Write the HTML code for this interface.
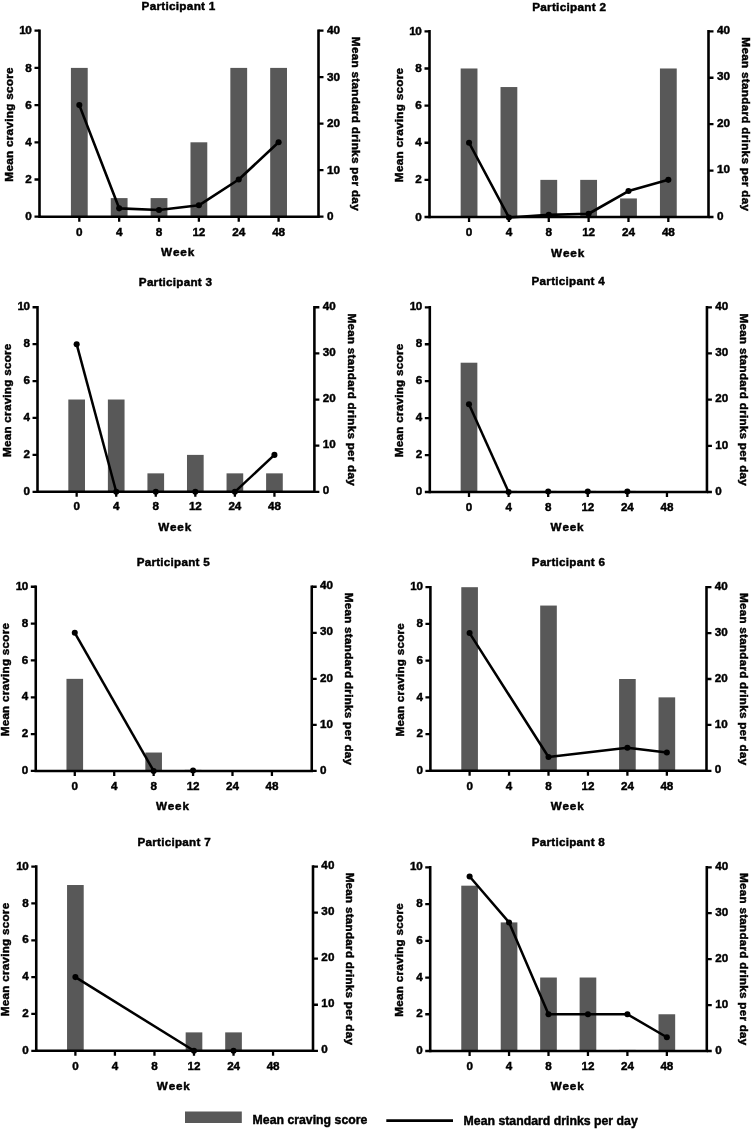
<!DOCTYPE html>
<html lang="en"><head><meta charset="utf-8"><title>Participants: craving score and standard drinks</title>
<style>html,body{margin:0;padding:0;background:#fff}svg{display:block}svg{will-change:transform}.d text{letter-spacing:-0.4px}text.r{letter-spacing:0.1px}text.x{letter-spacing:-0.1px}text{stroke:#000;stroke-width:0.45px;font-kerning:none;letter-spacing:0.27px;font-family:"Liberation Sans",sans-serif;font-weight:bold;fill:#000}</style>
</head><body>
<svg width="752" height="1129" viewBox="0 0 752 1129">
<rect width="752" height="1129" fill="#fff"/>
<g id="p1">
<rect x="70.91" y="67.9" width="16.8" height="148.8" fill="#585858"/>
<rect x="110.76" y="198.1" width="16.8" height="18.6" fill="#585858"/>
<rect x="150.62" y="198.1" width="16.8" height="18.6" fill="#585858"/>
<rect x="190.48" y="142.3" width="16.8" height="74.4" fill="#585858"/>
<rect x="230.34" y="67.9" width="16.8" height="148.8" fill="#585858"/>
<rect x="270.19" y="67.9" width="16.8" height="148.8" fill="#585858"/>
<g stroke="#000" stroke-width="2.6" fill="none" stroke-linecap="butt">
<path d="M39.5 29.4 V216.7 H318.5 V29.4"/>
<path stroke-width="2.3" d="M39.5 179.5 h-5 M39.5 142.3 h-5 M39.5 105.1 h-5 M39.5 67.9 h-5 M39.5 30.7 h-5 M318.5 216.7 h5 M318.5 170.2 h5 M318.5 123.7 h5 M318.5 77.2 h5 M318.5 30.7 h5 M40.8 216.7 h-6.3 M79.31 216.7 v5 M119.16 216.7 v5 M159.02 216.7 v5 M198.88 216.7 v5 M238.74 216.7 v5 M278.59 216.7 v5"/>
</g>
<polyline points="79.31,105.1 119.16,208.33 159.02,209.96 198.88,205.31 238.74,179.5 278.59,142.3" fill="none" stroke="#000" stroke-width="2.6" stroke-linejoin="round"/>
<circle cx="79.31" cy="105.1" r="3.05"/>
<circle cx="119.16" cy="208.33" r="3.05"/>
<circle cx="159.02" cy="209.96" r="3.05"/>
<circle cx="198.88" cy="205.31" r="3.05"/>
<circle cx="238.74" cy="179.5" r="3.05"/>
<circle cx="278.59" cy="142.3" r="3.05"/>
<g font-size="11.75">
<g class="d" text-anchor="end">
<text x="31.5" y="220.31">0</text>
<text x="31.5" y="183.11">2</text>
<text x="31.5" y="145.91">4</text>
<text x="31.5" y="108.71">6</text>
<text x="31.5" y="71.51">8</text>
<text x="31.5" y="34.31">10</text>
</g>
<text x="326.9" y="220.06" class="r">0</text>
<text x="326.9" y="173.56" class="r">10</text>
<text x="326.9" y="127.06" class="r">20</text>
<text x="326.9" y="80.56" class="r">30</text>
<text x="326.9" y="34.06" class="r">40</text>
<g text-anchor="middle">
<text x="79.31" y="236.11" class="x">0</text>
<text x="119.16" y="236.11" class="x">4</text>
<text x="159.02" y="236.11" class="x">8</text>
<text x="198.88" y="236.11" class="x">12</text>
<text x="238.74" y="236.11" class="x">24</text>
<text x="278.59" y="236.11" class="x">48</text>
<text x="178.1" y="256.31" style="letter-spacing:0.85px">Week</text>
<text x="178.6" y="9.91">Participant 1</text>
<text transform="translate(8.3 124.4) rotate(-90)" y="4.21">Mean craving score</text>
<text transform="translate(356.4 123.9) rotate(90)" y="4.21">Mean standard drinks per day</text>
</g>
</g>
</g>
<g id="p2">
<rect x="460.66" y="68.48" width="16.8" height="148.52" fill="#585858"/>
<rect x="500.51" y="87.05" width="16.8" height="129.95" fill="#585858"/>
<rect x="540.37" y="179.87" width="16.8" height="37.13" fill="#585858"/>
<rect x="580.23" y="179.87" width="16.8" height="37.13" fill="#585858"/>
<rect x="620.09" y="198.44" width="16.8" height="18.57" fill="#585858"/>
<rect x="659.94" y="68.48" width="16.8" height="148.52" fill="#585858"/>
<g stroke="#000" stroke-width="2.6" fill="none" stroke-linecap="butt">
<path d="M429.5 30.05 V217 H708.5 V30.05"/>
<path stroke-width="2.3" d="M429.5 179.87 h-5 M429.5 142.74 h-5 M429.5 105.61 h-5 M429.5 68.48 h-5 M429.5 31.35 h-5 M708.5 217 h5 M708.5 170.59 h5 M708.5 124.17 h5 M708.5 77.76 h5 M708.5 31.35 h5 M430.8 217 h-6.3 M469.06 217 v5 M508.91 217 v5 M548.77 217 v5 M588.63 217 v5 M628.49 217 v5 M668.34 217 v5"/>
</g>
<polyline points="469.06,142.74 508.91,217.46 548.77,214.91 588.63,213.75 628.49,191.01 668.34,179.87" fill="none" stroke="#000" stroke-width="2.6" stroke-linejoin="round"/>
<circle cx="469.06" cy="142.74" r="3.05"/>
<circle cx="508.91" cy="217.46" r="3.05"/>
<circle cx="548.77" cy="214.91" r="3.05"/>
<circle cx="588.63" cy="213.75" r="3.05"/>
<circle cx="628.49" cy="191.01" r="3.05"/>
<circle cx="668.34" cy="179.87" r="3.05"/>
<g font-size="11.75">
<g class="d" text-anchor="end">
<text x="421.5" y="220.61">0</text>
<text x="421.5" y="183.48">2</text>
<text x="421.5" y="146.35">4</text>
<text x="421.5" y="109.22">6</text>
<text x="421.5" y="72.09">8</text>
<text x="421.5" y="34.96">10</text>
</g>
<text x="716.9" y="219.71" class="r">0</text>
<text x="716.9" y="173.29" class="r">10</text>
<text x="716.9" y="126.88" class="r">20</text>
<text x="716.9" y="80.47" class="r">30</text>
<text x="716.9" y="34.06" class="r">40</text>
<g text-anchor="middle">
<text x="469.06" y="236.41" class="x">0</text>
<text x="508.91" y="236.41" class="x">4</text>
<text x="548.77" y="236.41" class="x">8</text>
<text x="588.63" y="236.41" class="x">12</text>
<text x="628.49" y="236.41" class="x">24</text>
<text x="668.34" y="236.41" class="x">48</text>
<text x="568.1" y="256.61" style="letter-spacing:0.85px">Week</text>
<text x="569.2" y="10.96">Participant 2</text>
<text transform="translate(398.3 124.88) rotate(-90)" y="4.21">Mean craving score</text>
<text transform="translate(746.4 124.38) rotate(90)" y="4.21">Mean standard drinks per day</text>
</g>
</g>
</g>
<g id="p3">
<rect x="68.32" y="399.52" width="16.67" height="92.28" fill="#585858"/>
<rect x="107.88" y="399.52" width="16.67" height="92.28" fill="#585858"/>
<rect x="147.43" y="473.35" width="16.67" height="18.46" fill="#585858"/>
<rect x="186.99" y="454.89" width="16.67" height="36.91" fill="#585858"/>
<rect x="226.55" y="473.35" width="16.67" height="18.46" fill="#585858"/>
<rect x="266.11" y="473.35" width="16.67" height="18.46" fill="#585858"/>
<g stroke="#000" stroke-width="2.58" fill="none" stroke-linecap="butt">
<path d="M37.5 305.96 V491.8 H314.4 V305.96"/>
<path stroke-width="2.28" d="M37.5 454.89 h-4.96 M37.5 417.98 h-4.96 M37.5 381.07 h-4.96 M37.5 344.16 h-4.96 M37.5 307.25 h-4.96 M314.4 491.8 h4.96 M314.4 445.66 h4.96 M314.4 399.52 h4.96 M314.4 353.39 h4.96 M314.4 307.25 h4.96 M38.79 491.8 h-6.25 M76.66 491.8 v4.96 M116.21 491.8 v4.96 M155.77 491.8 v4.96 M195.33 491.8 v4.96 M234.89 491.8 v4.96 M274.44 491.8 v4.96"/>
</g>
<polyline points="76.66,344.16 116.21,491.8" fill="none" stroke="#000" stroke-width="2.5" stroke-linejoin="round"/>
<polyline points="234.89,491.8 274.44,454.89" fill="none" stroke="#000" stroke-width="2.5" stroke-linejoin="round"/>
<circle cx="76.66" cy="344.16" r="3.03"/>
<circle cx="116.21" cy="491.8" r="3.03"/>
<circle cx="155.77" cy="491.8" r="3.03"/>
<circle cx="195.33" cy="491.8" r="3.03"/>
<circle cx="234.89" cy="491.8" r="3.03"/>
<circle cx="274.44" cy="454.89" r="3.03"/>
<g font-size="11.65">
<g class="d" text-anchor="end">
<text x="29.56" y="494.97">0</text>
<text x="29.56" y="458.06">2</text>
<text x="29.56" y="421.15">4</text>
<text x="29.56" y="384.24">6</text>
<text x="29.56" y="347.33">8</text>
<text x="29.56" y="310.42">10</text>
</g>
<text x="322.74" y="494.47" class="r">0</text>
<text x="322.74" y="448.33" class="r">10</text>
<text x="322.74" y="402.2" class="r">20</text>
<text x="322.74" y="356.06" class="r">30</text>
<text x="322.74" y="309.92" class="r">40</text>
<g text-anchor="middle">
<text x="76.66" y="510.36" class="x">0</text>
<text x="116.21" y="510.36" class="x">4</text>
<text x="155.77" y="510.36" class="x">8</text>
<text x="195.33" y="510.36" class="x">12</text>
<text x="234.89" y="510.36" class="x">24</text>
<text x="274.44" y="510.36" class="x">48</text>
<text x="175.05" y="531.1" style="letter-spacing:0.85px">Week</text>
<text x="175.55" y="285.91">Participant 3</text>
<text transform="translate(6.53 400.22) rotate(-90)" y="4.17">Mean craving score</text>
<text transform="translate(352.01 399.72) rotate(90)" y="4.17">Mean standard drinks per day</text>
</g>
</g>
</g>
<g id="p4">
<rect x="460.65" y="362.71" width="16.69" height="129.29" fill="#585858"/>
<rect x="500.24" y="490.89" width="16.69" height="1.11" fill="#585858"/>
<rect x="539.83" y="490.89" width="16.69" height="1.11" fill="#585858"/>
<rect x="579.43" y="490.89" width="16.69" height="1.11" fill="#585858"/>
<rect x="619.02" y="490.89" width="16.69" height="1.11" fill="#585858"/>
<g stroke="#000" stroke-width="2.58" fill="none" stroke-linecap="butt">
<path d="M429.8 306.01 V492 H706.95 V306.01"/>
<path stroke-width="2.28" d="M429.8 455.06 h-4.97 M429.8 418.12 h-4.97 M429.8 381.18 h-4.97 M429.8 344.24 h-4.97 M429.8 307.3 h-4.97 M706.95 492 h4.97 M706.95 445.82 h4.97 M706.95 399.65 h4.97 M706.95 353.48 h4.97 M706.95 307.3 h4.97 M431.09 492 h-6.26 M468.99 492 v4.97 M508.59 492 v4.97 M548.18 492 v4.97 M587.77 492 v4.97 M627.36 492 v4.97 M666.96 492 v4.97"/>
</g>
<polyline points="468.99,404.27 508.59,492" fill="none" stroke="#000" stroke-width="2.5" stroke-linejoin="round"/>
<circle cx="468.99" cy="404.27" r="3.03"/>
<circle cx="508.59" cy="492" r="3.03"/>
<circle cx="548.18" cy="491.54" r="3.03"/>
<circle cx="587.77" cy="491.54" r="3.03"/>
<circle cx="627.36" cy="491.54" r="3.03"/>
<g font-size="11.65">
<g class="d" text-anchor="end">
<text x="421.85" y="495.17">0</text>
<text x="421.85" y="458.23">2</text>
<text x="421.85" y="421.29">4</text>
<text x="421.85" y="384.35">6</text>
<text x="421.85" y="347.41">8</text>
<text x="421.85" y="310.47">10</text>
</g>
<text x="715.29" y="494.67" class="r">0</text>
<text x="715.29" y="448.5" class="r">10</text>
<text x="715.29" y="402.32" class="r">20</text>
<text x="715.29" y="356.15" class="r">30</text>
<text x="715.29" y="309.97" class="r">40</text>
<g text-anchor="middle">
<text x="468.99" y="510.57" class="x">0</text>
<text x="508.59" y="510.57" class="x">4</text>
<text x="548.18" y="510.57" class="x">8</text>
<text x="587.77" y="510.57" class="x">12</text>
<text x="627.36" y="510.57" class="x">24</text>
<text x="666.96" y="510.57" class="x">48</text>
<text x="567.48" y="531.34" style="letter-spacing:0.85px">Week</text>
<text x="568.27" y="285.43">Participant 4</text>
<text transform="translate(398.81 400.35) rotate(-90)" y="4.17">Mean craving score</text>
<text transform="translate(744.6 399.85) rotate(90)" y="4.17">Mean standard drinks per day</text>
</g>
</g>
</g>
<g id="p5">
<rect x="66.47" y="678.85" width="16.62" height="92.1" fill="#585858"/>
<rect x="145.33" y="752.53" width="16.62" height="18.42" fill="#585858"/>
<rect x="184.75" y="769.84" width="16.62" height="1.11" fill="#585858"/>
<g stroke="#000" stroke-width="2.57" fill="none" stroke-linecap="butt">
<path d="M35.75 585.46 V770.95 H311.75 V585.46"/>
<path stroke-width="2.28" d="M35.75 734.11 h-4.95 M35.75 697.27 h-4.95 M35.75 660.43 h-4.95 M35.75 623.59 h-4.95 M35.75 586.75 h-4.95 M311.75 770.95 h4.95 M311.75 724.9 h4.95 M311.75 678.85 h4.95 M311.75 632.8 h4.95 M311.75 586.75 h4.95 M37.04 770.95 h-6.23 M74.78 770.95 v4.95 M114.21 770.95 v4.95 M153.64 770.95 v4.95 M193.06 770.95 v4.95 M232.49 770.95 v4.95 M271.92 770.95 v4.95"/>
</g>
<polyline points="74.78,632.8 153.64,770.95" fill="none" stroke="#000" stroke-width="2.5" stroke-linejoin="round"/>
<circle cx="74.78" cy="632.8" r="3.02"/>
<circle cx="153.64" cy="770.95" r="3.02"/>
<circle cx="193.06" cy="770.49" r="3.02"/>
<g font-size="11.65">
<g class="d" text-anchor="end">
<text x="27.84" y="774.12">0</text>
<text x="27.84" y="737.28">2</text>
<text x="27.84" y="700.44">4</text>
<text x="27.84" y="663.6">6</text>
<text x="27.84" y="626.76">8</text>
<text x="27.84" y="589.92">10</text>
</g>
<text x="320.06" y="773.62" class="r">0</text>
<text x="320.06" y="727.57" class="r">10</text>
<text x="320.06" y="681.52" class="r">20</text>
<text x="320.06" y="635.47" class="r">30</text>
<text x="320.06" y="589.42" class="r">40</text>
<g text-anchor="middle">
<text x="74.78" y="790.16" class="x">0</text>
<text x="114.21" y="790.16" class="x">4</text>
<text x="153.64" y="790.16" class="x">8</text>
<text x="193.06" y="790.16" class="x">12</text>
<text x="232.49" y="790.16" class="x">24</text>
<text x="271.92" y="790.16" class="x">48</text>
<text x="172.85" y="810.14" style="letter-spacing:0.85px">Week</text>
<text x="173.35" y="566.19">Participant 5</text>
<text transform="translate(4.89 679.55) rotate(-90)" y="4.17">Mean craving score</text>
<text transform="translate(349.24 679.05) rotate(90)" y="4.17">Mean standard drinks per day</text>
</g>
</g>
</g>
<g id="p6">
<rect x="461.29" y="587.2" width="16.63" height="183.6" fill="#585858"/>
<rect x="540.19" y="605.56" width="16.63" height="165.24" fill="#585858"/>
<rect x="619.09" y="679" width="16.63" height="91.8" fill="#585858"/>
<rect x="658.54" y="697.36" width="16.63" height="73.44" fill="#585858"/>
<g stroke="#000" stroke-width="2.57" fill="none" stroke-linecap="butt">
<path d="M430.4 585.91 V770.8 H706.5 V585.91"/>
<path stroke-width="2.28" d="M430.4 734.08 h-4.95 M430.4 697.36 h-4.95 M430.4 660.64 h-4.95 M430.4 623.92 h-4.95 M430.4 587.2 h-4.95 M706.5 770.8 h4.95 M706.5 724.9 h4.95 M706.5 679 h4.95 M706.5 633.1 h4.95 M706.5 587.2 h4.95 M431.69 770.8 h-6.23 M469.6 770.8 v4.95 M509.05 770.8 v4.95 M548.5 770.8 v4.95 M587.95 770.8 v4.95 M627.4 770.8 v4.95 M666.85 770.8 v4.95"/>
</g>
<polyline points="469.6,633.1 548.5,757.03 627.4,747.85 666.85,752.44" fill="none" stroke="#000" stroke-width="2.5" stroke-linejoin="round"/>
<circle cx="469.6" cy="633.1" r="3.02"/>
<circle cx="548.5" cy="757.03" r="3.02"/>
<circle cx="627.4" cy="747.85" r="3.02"/>
<circle cx="666.85" cy="752.44" r="3.02"/>
<g font-size="11.65">
<g class="d" text-anchor="end">
<text x="422.48" y="773.97">0</text>
<text x="422.48" y="737.25">2</text>
<text x="422.48" y="700.53">4</text>
<text x="422.48" y="663.81">6</text>
<text x="422.48" y="627.09">8</text>
<text x="422.48" y="590.37">10</text>
</g>
<text x="714.81" y="773.47" class="r">0</text>
<text x="714.81" y="727.57" class="r">10</text>
<text x="714.81" y="681.67" class="r">20</text>
<text x="714.81" y="635.77" class="r">30</text>
<text x="714.81" y="589.87" class="r">40</text>
<g text-anchor="middle">
<text x="469.6" y="790.01" class="x">0</text>
<text x="509.05" y="790.01" class="x">4</text>
<text x="548.5" y="790.01" class="x">8</text>
<text x="587.95" y="790.01" class="x">12</text>
<text x="627.4" y="790.01" class="x">24</text>
<text x="666.85" y="790.01" class="x">48</text>
<text x="567.55" y="810" style="letter-spacing:0.85px">Week</text>
<text x="568.55" y="565.93">Participant 6</text>
<text transform="translate(399.52 679.7) rotate(-90)" y="4.17">Mean craving score</text>
<text transform="translate(744.01 679.2) rotate(90)" y="4.17">Mean standard drinks per day</text>
</g>
</g>
</g>
<g id="p7">
<rect x="67.05" y="885.02" width="16.66" height="165.78" fill="#585858"/>
<rect x="185.66" y="1032.38" width="16.66" height="18.42" fill="#585858"/>
<rect x="225.2" y="1032.38" width="16.66" height="18.42" fill="#585858"/>
<g stroke="#000" stroke-width="2.58" fill="none" stroke-linecap="butt">
<path d="M36.25 865.31 V1050.8 H313 V865.31"/>
<path stroke-width="2.28" d="M36.25 1013.96 h-4.96 M36.25 977.12 h-4.96 M36.25 940.28 h-4.96 M36.25 903.44 h-4.96 M36.25 866.6 h-4.96 M313 1050.8 h4.96 M313 1004.75 h4.96 M313 958.7 h4.96 M313 912.65 h4.96 M313 866.6 h4.96 M37.54 1050.8 h-6.25 M75.39 1050.8 v4.96 M114.92 1050.8 v4.96 M154.46 1050.8 v4.96 M193.99 1050.8 v4.96 M233.53 1050.8 v4.96 M273.06 1050.8 v4.96"/>
</g>
<polyline points="75.39,977.12 193.99,1050.8" fill="none" stroke="#000" stroke-width="2.5" stroke-linejoin="round"/>
<circle cx="75.39" cy="977.12" r="3.03"/>
<circle cx="193.99" cy="1050.8" r="3.03"/>
<circle cx="233.53" cy="1050.8" r="3.03"/>
<g font-size="11.65">
<g class="d" text-anchor="end">
<text x="28.31" y="1053.97">0</text>
<text x="28.31" y="1017.13">2</text>
<text x="28.31" y="980.29">4</text>
<text x="28.31" y="943.45">6</text>
<text x="28.31" y="906.61">8</text>
<text x="28.31" y="869.77">10</text>
</g>
<text x="321.33" y="1053.47" class="r">0</text>
<text x="321.33" y="1007.42" class="r">10</text>
<text x="321.33" y="961.37" class="r">20</text>
<text x="321.33" y="915.32" class="r">30</text>
<text x="321.33" y="869.27" class="r">40</text>
<g text-anchor="middle">
<text x="75.39" y="1070.05" class="x">0</text>
<text x="114.92" y="1070.05" class="x">4</text>
<text x="154.46" y="1070.05" class="x">8</text>
<text x="193.99" y="1070.05" class="x">12</text>
<text x="233.53" y="1070.05" class="x">24</text>
<text x="273.06" y="1070.05" class="x">48</text>
<text x="173.72" y="1090.09" style="letter-spacing:0.85px">Week</text>
<text x="174.22" y="845.67">Participant 7</text>
<text transform="translate(5.3 959.4) rotate(-90)" y="4.17">Mean craving score</text>
<text transform="translate(350.59 958.9) rotate(90)" y="4.17">Mean standard drinks per day</text>
</g>
</g>
</g>
<g id="p8">
<rect x="461.27" y="885.67" width="16.66" height="165.33" fill="#585858"/>
<rect x="500.72" y="922.41" width="16.66" height="128.59" fill="#585858"/>
<rect x="540.17" y="977.52" width="16.66" height="73.48" fill="#585858"/>
<rect x="579.62" y="977.52" width="16.66" height="73.48" fill="#585858"/>
<rect x="619.07" y="1049.9" width="16.66" height="1.1" fill="#585858"/>
<rect x="658.52" y="1014.26" width="16.66" height="36.74" fill="#585858"/>
<g stroke="#000" stroke-width="2.58" fill="none" stroke-linecap="butt">
<path d="M430.2 866.01 V1051 H706.8 V866.01"/>
<path stroke-width="2.28" d="M430.2 1014.26 h-4.96 M430.2 977.52 h-4.96 M430.2 940.78 h-4.96 M430.2 904.04 h-4.96 M430.2 867.3 h-4.96 M706.8 1051 h4.96 M706.8 1005.08 h4.96 M706.8 959.15 h4.96 M706.8 913.22 h4.96 M706.8 867.3 h4.96 M431.49 1051 h-6.25 M469.6 1051 v4.96 M509.05 1051 v4.96 M548.5 1051 v4.96 M587.95 1051 v4.96 M627.4 1051 v4.96 M666.85 1051 v4.96"/>
</g>
<polyline points="469.6,876.48 509.05,922.41 548.5,1014.26 587.95,1014.26 627.4,1014.26 666.85,1037.22" fill="none" stroke="#000" stroke-width="2.5" stroke-linejoin="round"/>
<circle cx="469.6" cy="876.48" r="3.02"/>
<circle cx="509.05" cy="922.41" r="3.02"/>
<circle cx="548.5" cy="1014.26" r="3.02"/>
<circle cx="587.95" cy="1014.26" r="3.02"/>
<circle cx="627.4" cy="1014.26" r="3.02"/>
<circle cx="666.85" cy="1037.22" r="3.02"/>
<g font-size="11.65">
<g class="d" text-anchor="end">
<text x="422.27" y="1054.17">0</text>
<text x="422.27" y="1017.43">2</text>
<text x="422.27" y="980.69">4</text>
<text x="422.27" y="943.95">6</text>
<text x="422.27" y="907.21">8</text>
<text x="422.27" y="870.47">10</text>
</g>
<text x="715.13" y="1053.67" class="r">0</text>
<text x="715.13" y="1007.75" class="r">10</text>
<text x="715.13" y="961.82" class="r">20</text>
<text x="715.13" y="915.9" class="r">30</text>
<text x="715.13" y="869.97" class="r">40</text>
<g text-anchor="middle">
<text x="469.6" y="1070.24" class="x">0</text>
<text x="509.05" y="1070.24" class="x">4</text>
<text x="548.5" y="1070.24" class="x">8</text>
<text x="587.95" y="1070.24" class="x">12</text>
<text x="627.4" y="1070.24" class="x">24</text>
<text x="666.85" y="1070.24" class="x">48</text>
<text x="567.6" y="1090.27" style="letter-spacing:0.85px">Week</text>
<text x="568.4" y="845.68">Participant 8</text>
<text transform="translate(399.27 959.85) rotate(-90)" y="4.17">Mean craving score</text>
<text transform="translate(744.37 959.35) rotate(90)" y="4.17">Mean standard drinks per day</text>
</g>
</g>
</g>
<g id="legend" font-size="12.25" style="letter-spacing:0">
<rect x="185" y="1111.5" width="56.8" height="11.5" fill="#585858"/>
<text x="252.6" y="1123.7" style="letter-spacing:0.02px">Mean craving score</text>
<path d="M386.3 1120.6 H453" stroke="#000" stroke-width="2.7" fill="none"/>
<text x="463.6" y="1124.8" style="letter-spacing:0.02px">Mean standard drinks per day</text>
</g>
</svg>
</body></html>
